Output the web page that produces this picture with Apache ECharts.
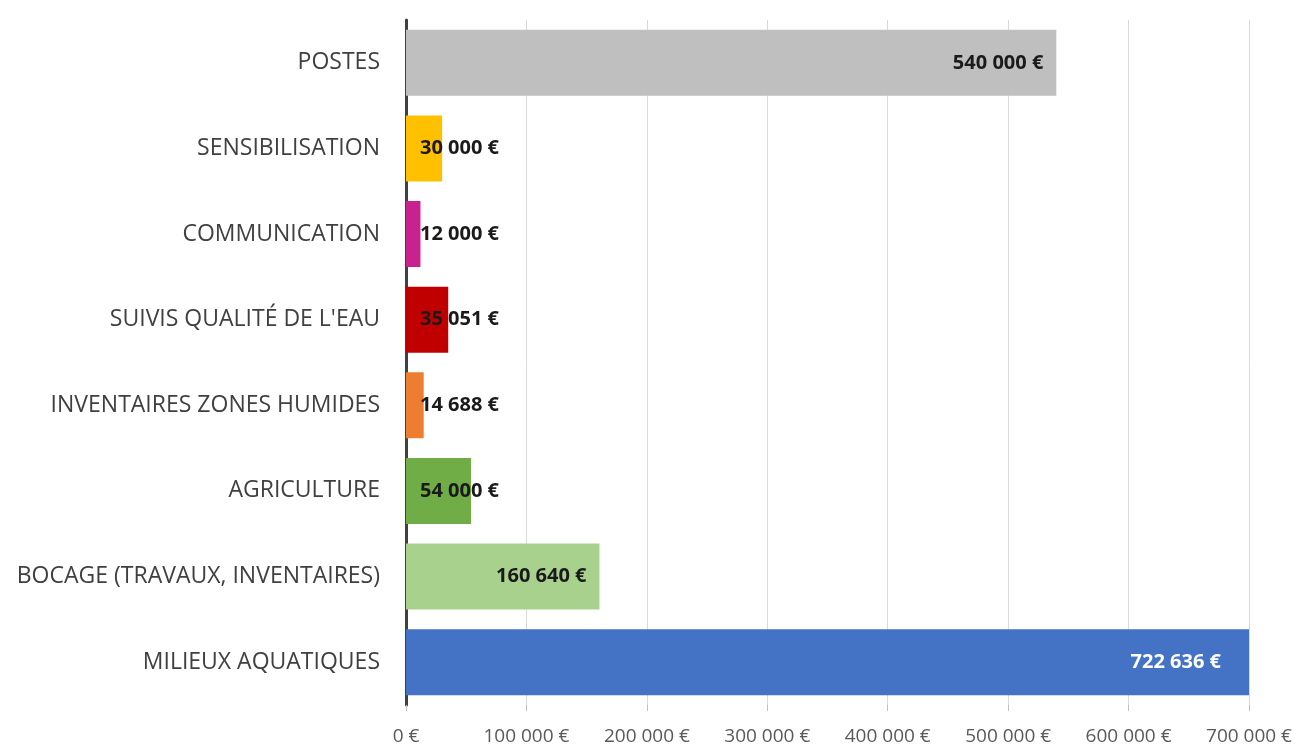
<!DOCTYPE html>
<html>
<head>
<meta charset="utf-8">
<script src="https://cdn.jsdelivr.net/npm/echarts@6/dist/echarts.min.js"></script>
<style>
  html, body { margin: 0; padding: 0; background: #fff; }
  #chart { width: 1296px; height: 746px; }
</style>
</head>
<body>
<div id="chart"></div>
<script>
// données (de haut en bas dans le graphique)
const categories = [
  'POSTES',
  'SENSIBILISATION',
  'COMMUNICATION',
  "SUIVIS QUALITÉ DE L'EAU",
  'INVENTAIRES ZONES HUMIDES',
  'AGRICULTURE',
  'BOCAGE (TRAVAUX, INVENTAIRES)',
  'MILIEUX AQUATIQUES'
];
const montants = [540000, 30000, 12000, 35051, 14688, 54000, 160640, 722636];
const couleurs = ['#bfbfbf', '#ffc000', '#c9218e', '#c00000', '#ed7d31', '#70ad47', '#a9d18e', '#4472c4'];
const xTicks = [0, 100000, 200000, 300000, 400000, 500000, 600000, 700000];

const fmtEuro = v => String(v).replace(/\B(?=(\d{3})+(?!\d))/g, ' ') + ' €';

const chart = echarts.init(document.getElementById('chart'));

// petites barres : étiquette calée à droite au même endroit
const data = montants.map((v, i) => {
  const petit = v < 100000;
  const dernier = i === montants.length - 1;
  return {
    value: v,
    itemStyle: { color: couleurs[i] },
    label: petit
      ? { position: [93, '50%'], align: 'right', verticalAlign: 'middle' }
      : {
          position: 'insideRight',
          distance: dernier ? 28 : 13,
          color: dernier ? '#ffffff' : '#1a1a1a'
        }
  };
});

chart.setOption({
  animation: false,
  grid: { left: 406, right: 47, top: 20, bottom: 34, containLabel: false },
  xAxis: {
    type: 'value',
    min: xTicks[0],
    max: xTicks[xTicks.length - 1],
    interval: 100000,
    axisLine: { show: false },
    axisTick: { show: true, length: 6, lineStyle: { color: '#bfbfbf' } },
    splitLine: { show: true, lineStyle: { color: '#d9d9d9', width: 1 } },
    axisLabel: {
      margin: 22,
      color: '#595959',
      fontFamily: 'Open Sans',
      fontSize: 19,
      formatter: v => fmtEuro(v)
    }
  },
  yAxis: {
    type: 'category',
    inverse: true,
    data: categories,
    axisLine: { show: true, lineStyle: { color: '#404040', width: 3 } },
    axisTick: { show: false },
    axisLabel: {
      margin: 26,
      color: '#404040',
      fontFamily: 'Open Sans',
      fontSize: 23
    }
  },
  series: [{
    type: 'bar',
    data: data,
    barCategoryGap: '23%',
    clip: true,
    label: {
      show: true,
      fontFamily: 'Open Sans',
      fontWeight: 'bold',
      fontSize: 20,
      color: '#1a1a1a',
      formatter: p => fmtEuro(p.value)
    }
  }]
});
</script>
</body>
</html>
